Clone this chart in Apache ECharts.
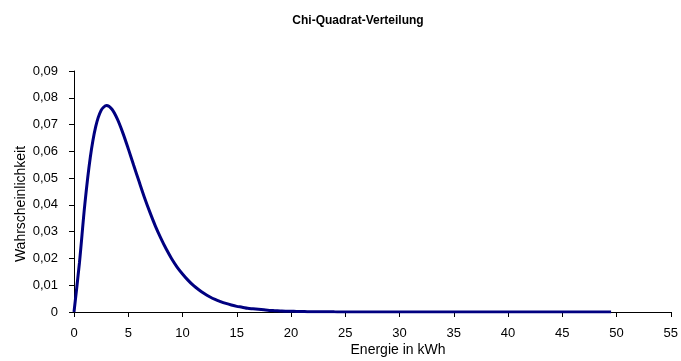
<!DOCTYPE html>
<html>
<head>
<meta charset="utf-8">
<script src="https://cdn.jsdelivr.net/npm/echarts@6/dist/echarts.min.js"></script>
<style>
  html, body { margin: 0; padding: 0; background: #ffffff; }
  #chart { width: 681px; height: 361px; }
</style>
</head>
<body>
<div id="chart"></div>
<script>
// Energie in kWh (Stützstellen im Abstand 0,5)
var energie = [
  0, 0.5, 1, 1.5, 2, 2.5, 3, 3.5, 4, 4.5,
  5, 5.5, 6, 6.5, 7, 7.5, 8, 8.5, 9, 9.5,
  10, 10.5, 11, 11.5, 12, 12.5, 13, 13.5, 14, 14.5,
  15, 15.5, 16, 16.5, 17, 17.5, 18, 18.5, 19, 19.5,
  20, 20.5, 21, 21.5, 22, 22.5, 23, 23.5, 24, 24.5,
  25, 25.5, 26, 26.5, 27, 27.5, 28, 28.5, 29, 29.5,
  30, 30.5, 31, 31.5, 32, 32.5, 33, 33.5, 34, 34.5,
  35, 35.5, 36, 36.5, 37, 37.5, 38, 38.5, 39, 39.5,
  40, 40.5, 41, 41.5, 42, 42.5, 43, 43.5, 44, 44.5,
  45, 45.5, 46, 46.5, 47, 47.5, 48, 48.5, 49, 49.5
];

// Wahrscheinlichkeit je Stützstelle
var wahrscheinlichkeit = [
  0, 0.0183, 0.0403, 0.0577, 0.0692, 0.0753, 0.0771, 0.0757, 0.0720, 0.0669,
  0.0610, 0.0548, 0.0487, 0.0427, 0.0372, 0.0321, 0.0276, 0.0235, 0.0199, 0.0168,
  0.0142, 0.0119, 0.0099, 0.0083, 0.0069, 0.0057, 0.0047, 0.0039, 0.0032, 0.0026,
  0.0021, 0.0018, 0.0014, 0.0012, 0.0010, 0.0008, 0.0006, 0.0005, 0.0004, 0.0003,
  0.0003, 0.0002, 0.0002, 0.0001, 0.0001, 0.0001, 0.0001, 0.0001, 0.00005, 0.00004,
  0.00003, 0, 0, 0, 0, 0, 0, 0, 0, 0,
  0, 0, 0, 0, 0, 0, 0, 0, 0, 0,
  0, 0, 0, 0, 0, 0, 0, 0, 0, 0,
  0, 0, 0, 0, 0, 0, 0, 0, 0, 0,
  0, 0, 0, 0, 0, 0, 0, 0, 0, 0
];

// Beschriftungen der Achsen
var xTickLabels = ['0', '5', '10', '15', '20', '25', '30', '35', '40', '45', '50', '55'];
var yTickLabels = ['0', '0,01', '0,02', '0,03', '0,04', '0,05', '0,06', '0,07', '0,08', '0,09'];

var titel = 'Chi-Quadrat-Verteilung';
var xAchsenName = 'Energie in kWh';
var yAchsenName = 'Wahrscheinlichkeit';

var punkte = energie.map(function (x, i) { return [x, wahrscheinlichkeit[i]]; });

var FONT = '"Liberation Sans", Arial, sans-serif';

var chart = echarts.init(document.getElementById('chart'), null, { renderer: 'canvas' });

chart.setOption({
  animation: false,
  backgroundColor: '#ffffff',
  title: {
    text: titel,
    left: 353,
    top: 10,
    textAlign: 'center',
    textStyle: { fontFamily: FONT, fontSize: 12, fontWeight: 'bold', color: '#000000' }
  },
  grid: { left: 74, right: 8, top: 71, bottom: 49, containLabel: false },
  xAxis: {
    type: 'value',
    min: 0,
    max: 55,
    interval: 5,
    axisLine: { show: true, onZero: false, lineStyle: { color: '#000000', width: 1 } },
    axisTick: { show: true, inside: false, length: 5, lineStyle: { color: '#000000' } },
    splitLine: { show: false },
    axisLabel: {
      margin: 15,
      fontFamily: FONT,
      fontSize: 13,
      color: '#000000',
      formatter: function (v) { return xTickLabels[Math.round(v / 5)]; }
    }
  },
  yAxis: {
    type: 'value',
    min: 0,
    max: 0.09,
    interval: 0.01,
    axisLine: { show: true, lineStyle: { color: '#000000', width: 1 } },
    axisTick: { show: true, inside: false, length: 5, lineStyle: { color: '#000000' } },
    splitLine: { show: false },
    axisLabel: {
      margin: 16,
      fontFamily: FONT,
      fontSize: 13,
      color: '#000000',
      formatter: function (v) { return yTickLabels[Math.round(v * 100)]; }
    }
  },
  graphic: [
    {
      type: 'text',
      x: 398,
      y: 350,
      style: {
        text: xAchsenName,
        fontFamily: FONT,
        fontSize: 14,
        fill: '#000000',
        align: 'center',
        verticalAlign: 'middle'
      }
    },
    {
      type: 'text',
      x: 21,
      y: 204,
      rotation: Math.PI / 2,
      style: {
        text: yAchsenName,
        fontFamily: FONT,
        fontSize: 14,
        fill: '#000000',
        align: 'center',
        verticalAlign: 'middle'
      }
    }
  ],
  series: [
    {
      type: 'line',
      data: punkte,
      smooth: 0.3,
      showSymbol: false,
      symbol: 'none',
      lineStyle: { color: '#000080', width: 3 },
      z: 3
    }
  ]
});
</script>
</body>
</html>
